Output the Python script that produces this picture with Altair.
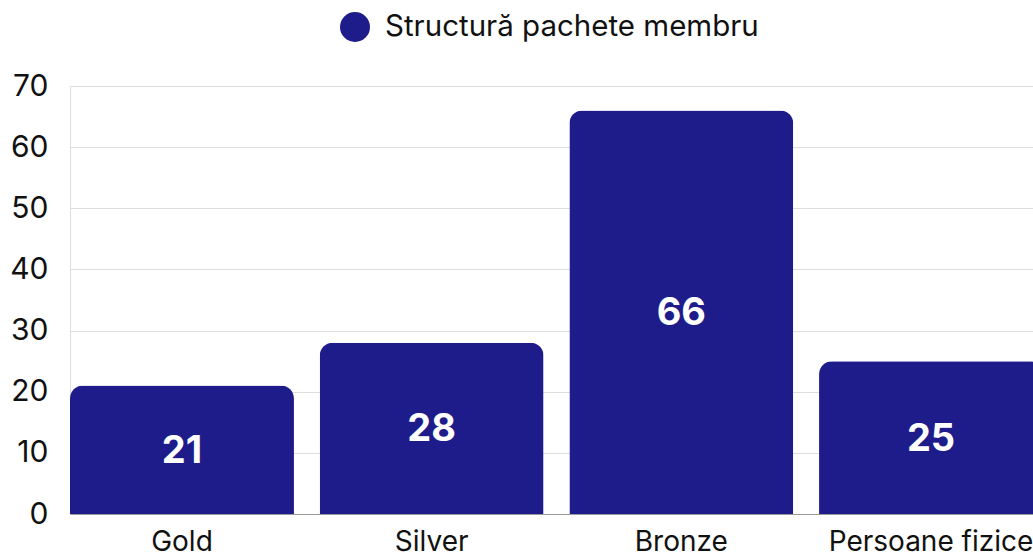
import altair as alt
import pandas as pd

categories = ["Gold", "Silver", "Bronze", "Persoane fizice"]
values = [21, 28, 66, 25]
series_name = "Structură pachete membru"
y_ticks = [0, 10, 20, 30, 40, 50, 60, 70]

df = pd.DataFrame({"cat": categories, "val": values, "series": [series_name] * len(values)})

FONT = "Inter"
BAR = "#1e1c8a"
TXT = "#111111"

base = alt.Chart(df).encode(
    x=alt.X("cat:N", sort=categories, title=None,
            scale=alt.Scale(paddingInner=0.103, paddingOuter=0, range=[0, 973]),
            axis=alt.Axis(labelAngle=0, labelFontSize=28, labelFont=FONT, labelColor=TXT,
                          ticks=False, domain=True, domainColor="#999999", domainWidth=1,
                          labelPadding=14, labelLimit=400)),
)

bars = base.mark_bar(cornerRadiusTopLeft=13, cornerRadiusTopRight=13).encode(
    y=alt.Y("val:Q", title=None,
            scale=alt.Scale(domain=[0, 70], nice=False),
            axis=alt.Axis(values=y_ticks, labelFontSize=30, labelFont=FONT, labelColor=TXT,
                          ticks=False, domain=False, gridColor="#dddddd", gridWidth=1,
                          labelPadding=22)),
    color=alt.Color("series:N", scale=alt.Scale(range=[BAR]),
                    legend=alt.Legend(title=None, orient="none", legendX=270, legendY=-74,
                                      symbolType="circle", symbolSize=900, symbolStrokeWidth=0,
                                      labelFontSize=29.5, labelFont=FONT, labelColor=TXT,
                                      labelOffset=15, labelLimit=600)),
)

labels = base.transform_calculate(mid="datum.val / 2").mark_text(
    color="white", fontSize=38, fontWeight="bold", font=FONT, baseline="middle", dy=2
).encode(y=alt.Y("mid:Q"), text=alt.Text("val:Q"))

chart = alt.layer(bars, labels).properties(
    width=963, height=428,
    autosize=alt.AutoSizeParams(type="none"),
    padding={"left": 70, "top": 86, "right": 0, "bottom": 40},
).configure_view(stroke=None).configure(background="white")

chart.save("out.html", embed_options={"renderer": "svg", "actions": False})
